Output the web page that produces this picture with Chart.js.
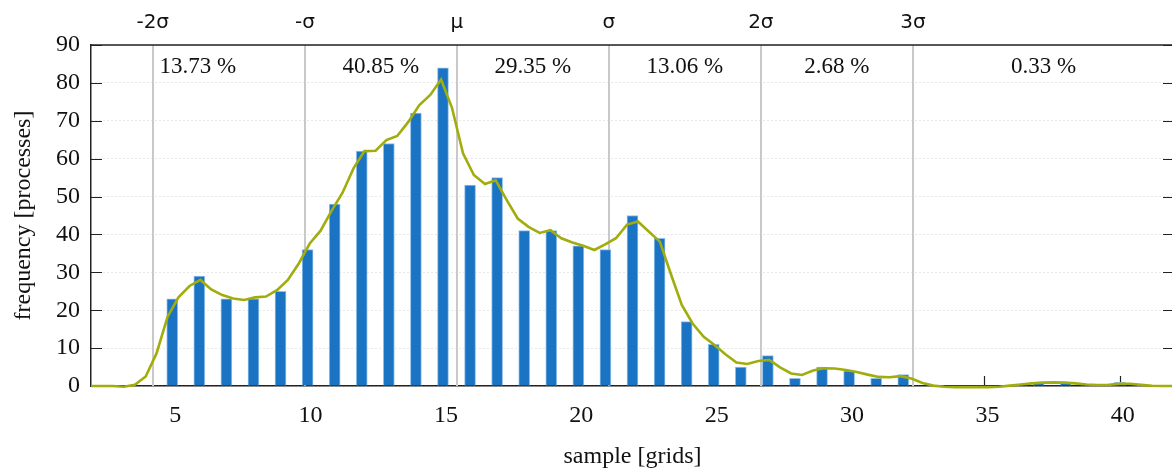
<!DOCTYPE html>
<html>
<head>
<meta charset="utf-8">
<script src="https://cdn.jsdelivr.net/npm/chart.js@4/dist/chart.umd.min.js"></script>
<style>
  html, body { margin: 0; padding: 0; background: #fff; overflow: hidden; }
  #wrap { width: 1180px; height: 470px; }
</style>
</head>
<body>
<div id="wrap"><canvas id="c" width="1180" height="470"></canvas></div>
<script>
// Histogram bins (sample size in grids) and their process counts
const binCenters = [5, 6, 7, 8, 9, 10, 11, 12, 13, 14, 15, 16, 17, 18, 19, 20, 21, 22, 23,
                    24, 25, 26, 27, 28, 29, 30, 31, 32, 33, 34, 35, 36, 37, 38, 39, 40, 41];
const binCounts  = [23, 29, 23, 23, 25, 36, 48, 62, 64, 72, 84, 53, 55, 41, 41, 37, 36, 45, 39,
                    17, 11, 5, 8, 2, 5, 4, 2, 3, 0, 0, 0, 0, 1, 1, 0, 1, 0];

// Smoothed density curve (scaled to counts)
const curveX = [2.00, 2.40, 2.81, 3.21, 3.62, 4.02, 4.42, 4.83, 5.23, 5.64,
                6.04, 6.44, 6.85, 7.25, 7.66, 8.06, 8.46, 8.87, 9.27, 9.68,
                10.08, 10.48, 10.89, 11.29, 11.70, 12.10, 12.51, 12.91, 13.31, 13.72,
                14.12, 14.53, 14.93, 15.33, 15.74, 16.14, 16.55, 16.95, 17.35, 17.76,
                18.16, 18.57, 18.97, 19.37, 19.78, 20.18, 20.59, 20.99, 21.39, 21.80,
                22.20, 22.61, 23.01, 23.41, 23.82, 24.22, 24.63, 25.03, 25.43, 25.84,
                26.24, 26.65, 27.05, 27.45, 27.86, 28.26, 28.67, 29.07, 29.47, 29.88,
                30.28, 30.69, 31.09, 31.49, 31.90, 32.30, 32.71, 33.11, 33.52, 33.92,
                34.32, 34.73, 35.13, 35.54, 35.94, 36.34, 36.75, 37.15, 37.56, 37.96,
                38.36, 38.77, 39.17, 39.58, 39.98, 40.38, 40.79, 41.19, 41.60, 42.00];
const curveY = [0, 0, 0, -0.2, 0.3, 2.5, 8.6, 18.3, 23.4, 26.4,
                28.0, 25.5, 24.0, 23.1, 22.7, 23.4, 23.6, 25.3, 28.0, 32.4,
                37.6, 41.0, 46.3, 51.0, 57.5, 62.0, 62.1, 64.9, 66.0, 69.7,
                74.1, 76.8, 80.9, 73.5, 61.4, 55.7, 53.3, 54.3, 49.1, 44.2,
                42.0, 40.4, 41.1, 39.0, 37.9, 37.0, 35.9, 37.4, 39.0, 42.6,
                43.4, 40.7, 38.1, 29.7, 21.4, 16.5, 13.0, 10.8, 8.4, 6.2,
                5.8, 6.6, 6.9, 4.9, 3.3, 2.9, 4.1, 4.7, 4.6, 4.2,
                3.7, 3.0, 2.4, 2.3, 2.6, 2.0, 0.8, 0.1, -0.2, -0.3,
                -0.3, -0.3, -0.3, -0.2, 0.1, 0.4, 0.7, 0.9, 0.95, 0.9,
                0.7, 0.4, 0.25, 0.3, 0.6, 0.6, 0.3, 0.05, 0, 0];

// Mean / standard-deviation markers and the share of processes in each band
const sigmaPositions = [4.28, 9.90, 15.51, 21.13, 26.74, 32.36];
const sigmaLabels = ['-2σ', '-σ', 'μ', 'σ', '2σ', '3σ'];
const bandPercents = ['13.73 %', '40.85 %', '29.35 %', '13.06 %', '2.68 %', '0.33 %'];

const xTickValues = [5, 10, 15, 20, 25, 30, 35, 40];
const yTickValues = [0, 10, 20, 30, 40, 50, 60, 70, 80, 90];

const SERIF = "'Liberation Serif', 'Times New Roman', serif";
const SANS = "'DejaVu Sans', sans-serif";
const AXIS_COLOR = '#222';

const barData = binCenters
  .map((x, i) => ({ x: x, y: binCounts[i] }))
  .filter(p => p.y > 0);
const curveData = curveX.map((x, i) => ({ x: x, y: curveY[i] }));

// Sigma band guide lines, inward tick marks and the frame top edge
const framePlugin = {
  id: 'frame',
  beforeDatasetsDraw(chart) {
    const { ctx, chartArea: a, scales: { x, y } } = chart;
    ctx.save();
    ctx.strokeStyle = '#c9c9c9';
    ctx.lineWidth = 2;
    sigmaPositions.forEach(v => {
      const px = Math.round(x.getPixelForValue(v));
      ctx.beginPath();
      ctx.moveTo(px, a.top);
      ctx.lineTo(px, a.bottom);
      ctx.stroke();
    });
    ctx.strokeStyle = AXIS_COLOR;
    ctx.lineWidth = 1.2;
    xTickValues.forEach(v => {
      const px = Math.round(x.getPixelForValue(v)) + 0.5;
      ctx.beginPath();
      ctx.moveTo(px, a.bottom);
      ctx.lineTo(px, a.bottom - 10);
      ctx.stroke();
    });
    yTickValues.forEach(v => {
      const py = Math.round(y.getPixelForValue(v)) + 0.5;
      ctx.beginPath();
      ctx.moveTo(a.left, py);
      ctx.lineTo(a.left + 11, py);
      ctx.moveTo(a.right, py);
      ctx.lineTo(a.right - 11, py);
      ctx.stroke();
    });
    ctx.restore();
  },
  afterDraw(chart) {
    const { ctx, chartArea: a, scales: { x } } = chart;
    ctx.save();
    ctx.strokeStyle = AXIS_COLOR;
    ctx.lineWidth = 1.5;
    ctx.beginPath();
    ctx.moveTo(a.left, a.top);
    ctx.lineTo(a.right, a.top);
    ctx.lineTo(a.right, a.bottom);
    ctx.stroke();

    ctx.fillStyle = '#111';
    ctx.textAlign = 'center';
    ctx.textBaseline = 'alphabetic';
    ctx.font = '20px ' + SANS;
    sigmaPositions.forEach((v, i) => {
      ctx.fillText(sigmaLabels[i], x.getPixelForValue(v), 28);
    });

    ctx.font = '23px ' + SERIF;
    const edges = [x.min].concat(sigmaPositions.slice(1), [x.max]);
    bandPercents.forEach((t, i) => {
      const mid = (x.getPixelForValue(edges[i]) + x.getPixelForValue(edges[i + 1])) / 2;
      ctx.fillText(t, mid, 73);
    });

    ctx.font = '24px ' + SERIF;
    ctx.textBaseline = 'middle';
    ctx.fillText('sample [grids]', (a.left + a.right) / 2, 457);
    ctx.translate(24, (a.top + a.bottom) / 2);
    ctx.rotate(-Math.PI / 2);
    ctx.fillText('frequency [processes]', 0, 0);
    ctx.restore();
  }
};

new Chart(document.getElementById('c'), {
  data: {
    datasets: [
      {
        type: 'line',
        data: curveData,
        borderColor: '#a0ad0c',
        borderWidth: 2.6,
        pointRadius: 0,
        tension: 0,
        clip: 6,
        order: 0
      },
      {
        type: 'bar',
        data: barData,
        backgroundColor: '#1b73c4',
        borderColor: '#8fc0ea',
        borderWidth: 1,
        barThickness: 11,
        order: 1
      }
    ]
  },
  options: {
    responsive: false,
    animation: false,
    events: [],
    layout: { padding: { top: 45, right: 6, left: 0, bottom: 0 } },
    plugins: { legend: { display: false }, tooltip: { enabled: false } },
    scales: {
      x: {
        type: 'linear',
        min: 2,
        max: 42,
        offset: false,
        afterFit(s) { s.height = 84; },
        afterBuildTicks(s) { s.ticks = xTickValues.map(v => ({ value: v })); },
        grid: { display: false, drawTicks: false, offset: false },
        border: { color: AXIS_COLOR, width: 1.5 },
        ticks: { padding: 15, labelOffset: 3, color: '#111', font: { family: SERIF, size: 24 }, maxRotation: 0 }
      },
      y: {
        min: 0,
        max: 90,
        afterFit(s) { s.width = 91; },
        afterBuildTicks(s) { s.ticks = yTickValues.map(v => ({ value: v })); },
        grid: { color: '#cfcfcf', lineWidth: 1, drawTicks: false },
        border: { color: AXIS_COLOR, width: 1.5, dash: [1, 3] },
        ticks: { padding: 11, color: '#111', font: { family: SERIF, size: 24 } }
      }
    }
  },
  plugins: [framePlugin]
});
</script>
</body>
</html>
